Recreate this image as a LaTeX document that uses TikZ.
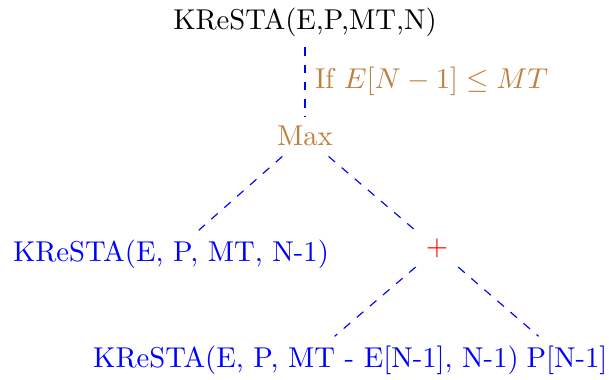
\documentclass[tikz,border=0pt]{standalone}
\begin{document}
\begin{tikzpicture}[x=0.3486pt,y=-0.3486pt,
  edge/.style={draw=blue,dashed,thin},
  leaf/.style={text=blue,anchor=base,inner sep=0.3333em},
  opnode/.style={anchor=base,inner sep=0.3333em}]
\useasboundingbox (0,0) rectangle (609,380);
\node[opnode] (top) at (305,30) {KReSTA(E,P,MT,N)};
\node[opnode,text=brown] (max) at (305,146) {Max};
\node[leaf] (left) at (171,262) {KReSTA(E, P, MT, N-1)};
\node[opnode,text=red] (plus) at (437,256) {$+$};
\node[leaf] (bl) at (306,368) {KReSTA(E, P, MT - E[N-1], N-1)};
\node[leaf] (pn) at (567,368) {P[N-1]};
\draw[edge] (top) -- (max) node[midway,right,text=brown] (cond) {If $E[N-1] \leq MT$};
\draw[edge] (max) -- (left);
\draw[edge] (max) -- (plus);
\draw[edge] (plus) -- (bl);
\draw[edge] (plus) -- (pn);
\end{tikzpicture}
\end{document}
